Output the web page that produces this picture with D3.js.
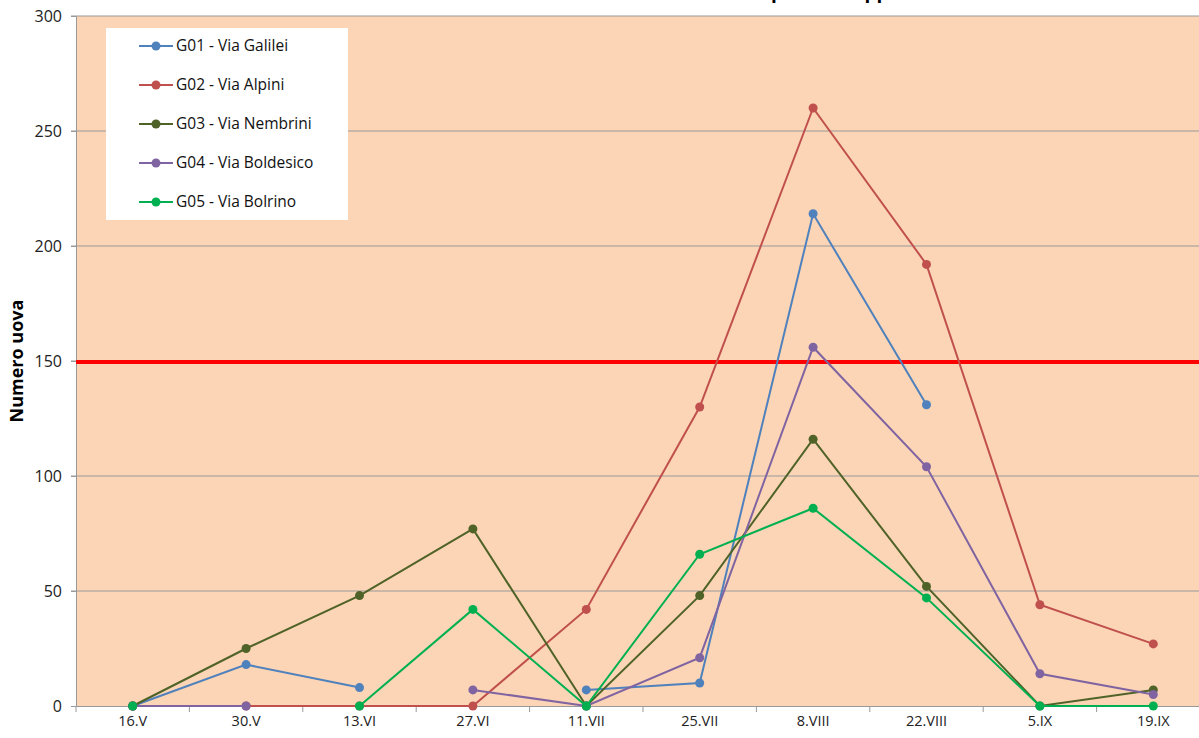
<!DOCTYPE html>
<html>
<head>
<meta charset="utf-8">
<script src="https://cdn.jsdelivr.net/npm/d3@7"></script>
<style>
  html, body { margin: 0; padding: 0; background: #fff; overflow: hidden; }
  text { font-family: "Open Sans", "Noto Sans", sans-serif; }
</style>
</head>
<body>
<svg id="chart" width="1199" height="738"></svg>
<script>
const dates = ["16.V", "30.V", "13.VI", "27.VI", "11.VII", "25.VII", "8.VIII", "22.VIII", "5.IX", "19.IX"];
const g01 = [0, 18, 8, null, 7, 10, 214, 131, null, null];
const g02 = [0, 0, 0, 0, 42, 130, 260, 192, 44, 27];
const g03 = [0, 25, 48, 77, 0, 48, 116, 52, 0, 7];
const g04 = [0, 0, null, 7, 0, 21, 156, 104, 14, 5];
const g05 = [0, null, 0, 42, 0, 66, 86, 47, 0, 0];
const seriesNames = ["G01 - Via Galilei", "G02 - Via Alpini", "G03 - Via Nembrini", "G04 - Via Boldesico", "G05 - Via Bolrino"];
const seriesColors = ["#4F81BD", "#C0504D", "#4F6228", "#8064A2", "#00B050"];
const yTicks = [0, 50, 100, 150, 200, 250, 300];
const soglia = 150;
const titolo = "Numero uova per ovitrappola";

const series = [g01, g02, g03, g04, g05].map((vals, i) => ({
    name: seriesNames[i], color: seriesColors[i], values: vals
}));

const svg = d3.select("#chart");
const margin = {left: 76, top: 16, right: -11, bottom: 32};
const width = +svg.attr("width");
const height = +svg.attr("height");

const x = d3.scaleBand()
    .domain(dates)
    .range([margin.left, width - margin.right]);
const y = d3.scaleLinear()
    .domain([0, 300])
    .range([height - margin.bottom, margin.top]);

// plot background
svg.append("rect")
    .attr("x", margin.left)
    .attr("y", y(300))
    .attr("width", x.range()[1] - margin.left)
    .attr("height", y(0) - y(300))
    .attr("fill", "#FBD5B5");

// grid
svg.append("g")
    .selectAll("line")
    .data(yTicks.filter(d => d > 0))
    .enter()
    .append("line")
    .attr("x1", margin.left - 5)
    .attr("x2", x.range()[1])
    .attr("y1", d => y(d))
    .attr("y2", d => y(d))
    .attr("stroke", "#999")
    .attr("stroke-width", 1);

// y axis
const yAxis = svg.append("g")
    .attr("transform", `translate(${margin.left},0)`)
    .call(d3.axisLeft(y).tickValues(yTicks).tickSize(5).tickPadding(9));
yAxis.select(".domain").attr("stroke", "#999");
yAxis.selectAll(".tick line").attr("stroke", "#999");
yAxis.selectAll(".tick text")
    .attr("font-size", 16)
    .attr("fill", "#222");

// x axis with ticks between categories
const xAxis = svg.append("g")
    .attr("transform", `translate(0,${y(0)})`)
    .call(d3.axisBottom(x).tickSize(0).tickPadding(10));
xAxis.select(".domain").attr("stroke", "#999");
xAxis.selectAll(".tick text")
    .attr("font-size", 14.5)
    .attr("fill", "#222");
xAxis.append("g")
    .selectAll("line")
    .data(dates)
    .enter()
    .append("line")
    .attr("x1", d => x(d))
    .attr("x2", d => x(d))
    .attr("y1", 0)
    .attr("y2", 6)
    .attr("stroke", "#999");

// y axis title
svg.append("text")
    .attr("transform", `translate(23,${(y(0) + y(300)) / 2}) rotate(-90)`)
    .attr("text-anchor", "middle")
    .attr("font-size", 18)
    .attr("font-weight", "bold")
    .attr("fill", "#000")
    .text("Numero  uova");

// threshold line
svg.append("line")
    .attr("x1", margin.left)
    .attr("x2", width)
    .attr("y1", y(soglia) + 1)
    .attr("y2", y(soglia) + 1)
    .attr("stroke", "#FF0000")
    .attr("stroke-width", 4);

// series
const cx = d => x(d) + x.bandwidth() / 2;
const line = d3.line()
    .defined(d => d.v !== null)
    .x(d => cx(d.date))
    .y(d => y(d.v));

series.forEach(s => {
    const pts = s.values.map((v, i) => ({date: dates[i], v: v}));
    svg.append("path")
        .datum(pts)
        .attr("fill", "none")
        .attr("stroke", s.color)
        .attr("stroke-width", 2)
        .attr("d", line);
    svg.append("g")
        .selectAll("circle")
        .data(pts.filter(p => p.v !== null))
        .enter()
        .append("circle")
        .attr("cx", p => cx(p.date))
        .attr("cy", p => y(p.v))
        .attr("r", 4.5)
        .attr("fill", s.color);
});

// legend
const legend = svg.append("g").attr("transform", "translate(106,28)");
legend.append("rect")
    .attr("width", 242)
    .attr("height", 192)
    .attr("fill", "#fff");
const items = legend.selectAll("g.item")
    .data(series)
    .enter()
    .append("g")
    .attr("class", "item")
    .attr("transform", (d, i) => `translate(0,${18 + i * 39})`);
items.append("line")
    .attr("x1", 33).attr("x2", 67)
    .attr("stroke", d => d.color)
    .attr("stroke-width", 2);
items.append("circle")
    .attr("cx", 50)
    .attr("r", 4.5)
    .attr("fill", d => d.color);
items.append("text")
    .attr("x", 70)
    .attr("dy", "0.35em")
    .attr("font-size", 15.5)
    .attr("fill", "#111")
    .text(d => d.name);

// title, mostly above the visible area
const title = svg.append("text")
    .attr("y", -2)
    .attr("font-size", 19)
    .attr("font-weight", "bold")
    .attr("fill", "#000")
    .text(titolo);
const pIdx = titolo.indexOf("per");
const shift = 771 - title.node().getStartPositionOfChar(pIdx).x;
title.attr("x", shift);
</script>
</body>
</html>
